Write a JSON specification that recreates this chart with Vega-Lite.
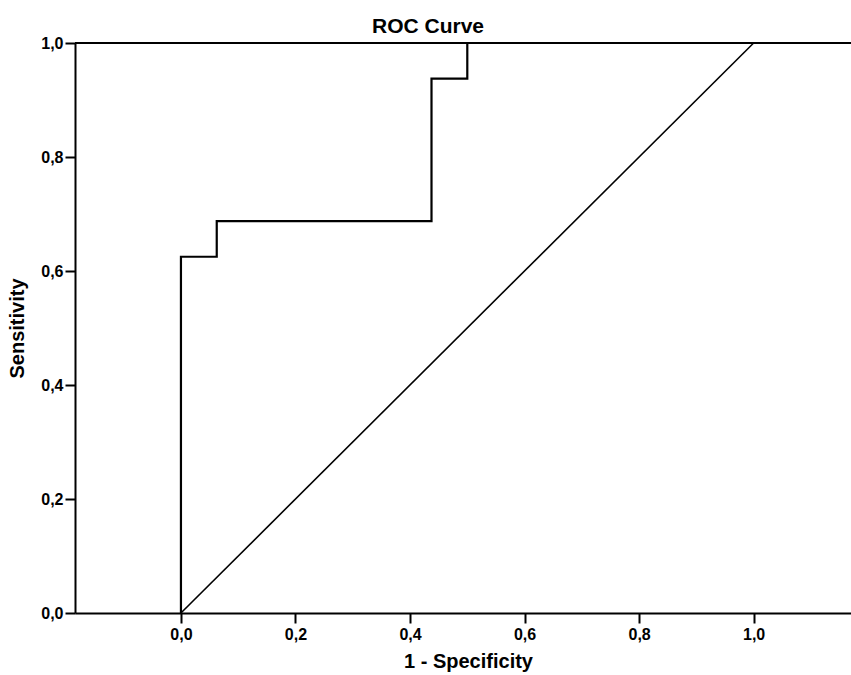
{
  "$schema": "https://vega.github.io/schema/vega-lite/v6.json",
  "autosize": "none",
  "width": 776,
  "height": 570,
  "padding": {"left": 75, "top": 43, "right": 0, "bottom": 62},
  "background": "white",
  "title": {
    "text": "ROC Curve",
    "font": "Liberation Sans",
    "fontSize": 21,
    "fontWeight": "bold",
    "color": "black",
    "anchor": "middle",
    "frame": "group",
    "dx": -35,
    "dy": 30,
    "baseline": "alphabetic",
    "offset": 11
  },
  "config": {
    "view": {"stroke": null},
    "axis": {
      "grid": false,
      "domainColor": "black",
      "domainWidth": 2,
      "tickColor": "black",
      "tickWidth": 2,
      "tickSize": 10,
      "labelFont": "Liberation Sans",
      "labelFontSize": 16,
      "labelFontWeight": "bold",
      "labelColor": "black",
      "titleFont": "Liberation Sans",
      "titleFontSize": 20,
      "titleFontWeight": "bold",
      "titleColor": "black"
    }
  },
  "datasets": {
    "roc": [
      {"order": 1, "fpr": 0.0, "tpr": 0.0},
      {"order": 2, "fpr": 0.0, "tpr": 0.625},
      {"order": 3, "fpr": 0.0625, "tpr": 0.625},
      {"order": 4, "fpr": 0.0625, "tpr": 0.6875},
      {"order": 5, "fpr": 0.4375, "tpr": 0.6875},
      {"order": 6, "fpr": 0.4375, "tpr": 0.9375},
      {"order": 7, "fpr": 0.5, "tpr": 0.9375},
      {"order": 8, "fpr": 0.5, "tpr": 1.0},
      {"order": 9, "fpr": 1.0, "tpr": 1.0}
    ],
    "ref": [
      {"order": 1, "fpr": 0.0, "tpr": 0.0},
      {"order": 2, "fpr": 1.0, "tpr": 1.0}
    ]
  },
  "layer": [
    {
      "data": {"name": "ref"},
      "mark": {"type": "line", "color": "black", "strokeWidth": 1.6},
      "encoding": {
        "x": {
          "field": "fpr", "type": "quantitative",
          "scale": {"domain": [-0.185, 1.17], "nice": false, "zero": false},
          "axis": {
            "title": "1 - Specificity",
            "values": [0, 0.2, 0.4, 0.6, 0.8, 1.0],
            "labelExpr": "replace(format(datum.value, '.1f'), '.', ',')",
            "labelPadding": 3,
            "titleX": 393,
            "titleY": 54,
            "titleBaseline": "alphabetic",
            "titleAlign": "center"
          }
        },
        "y": {
          "field": "tpr", "type": "quantitative",
          "scale": {"domain": [0, 1], "nice": false},
          "axis": {
            "title": "Sensitivity",
            "values": [0, 0.2, 0.4, 0.6, 0.8, 1.0],
            "labelExpr": "replace(format(datum.value, '.1f'), '.', ',')",
            "labelPadding": 2,
            "titleX": -52,
            "titleY": 285,
            "titleAngle": -90,
            "titleBaseline": "alphabetic",
            "titleAlign": "center"
          }
        },
        "order": {"field": "order"}
      }
    },
    {
      "data": {"name": "roc"},
      "mark": {"type": "line", "color": "black", "strokeWidth": 2.2},
      "encoding": {
        "x": {"field": "fpr", "type": "quantitative"},
        "y": {"field": "tpr", "type": "quantitative"},
        "order": {"field": "order"}
      }
    },
    {
      "data": {"values": [{}]},
      "mark": {"type": "rule", "color": "black", "strokeWidth": 2},
      "encoding": {"y": {"datum": 1}}
    }
  ]
}
